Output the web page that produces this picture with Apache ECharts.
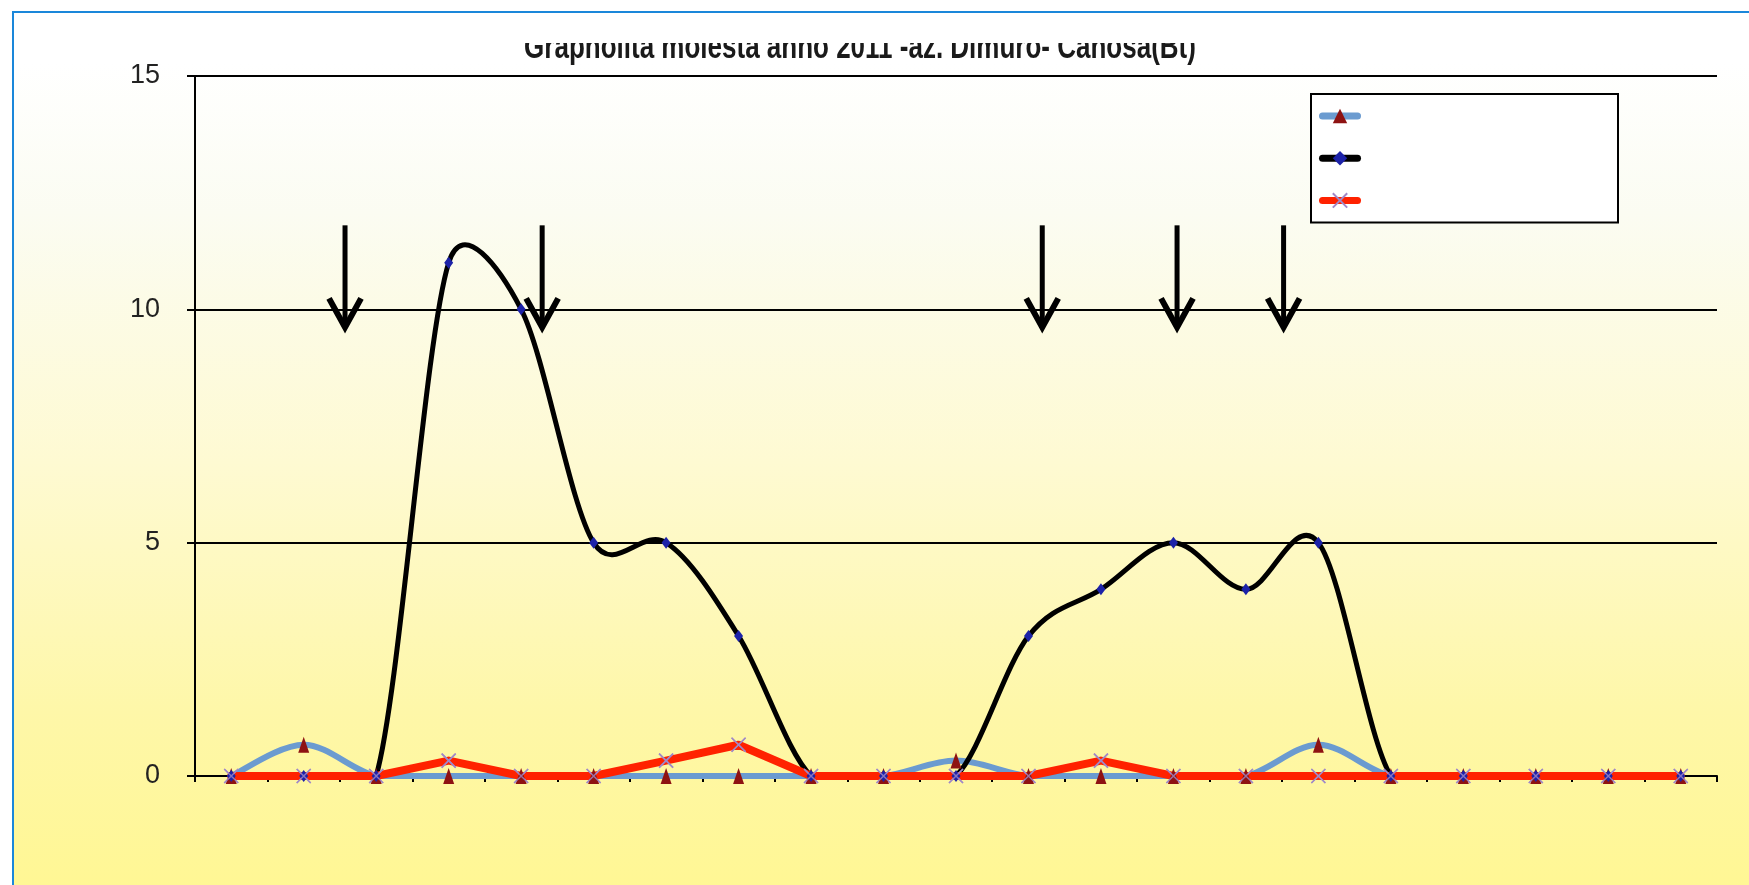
<!DOCTYPE html>
<html>
<head>
<meta charset="utf-8">
<script src="https://cdn.jsdelivr.net/npm/echarts@6/dist/echarts.min.js"></script>
<style>
  html, body { margin: 0; padding: 0; background: #ffffff; width: 1749px; height: 885px; overflow: hidden; }
  #bg {
    position: absolute; left: 12px; top: 11px; width: 1745px; height: 885px;
    border-left: 2px solid #1a87da; border-top: 2px solid #1a87da;
    background: linear-gradient(to bottom, #ffffff 0px, #ffffff 50px, #fbfcf2 200px, #fefad2 450px, #fef7a8 700px, #fff794 874px);
  }
  #chart { position: absolute; left: 0; top: 0; width: 1749px; height: 885px; }
</style>
</head>
<body>
<div id="bg"></div>
<div id="chart"></div>
<script>
const titleText = 'Grapholita molesta anno 2011 -az. Dimuro- Canosa(Bt)';
const categories = ['1','2','3','4','5','6','7','8','9','10','11','12','13','14','15','16','17','18','19','20','21'];
const seriesNames = ['Serie 1', 'Serie 2', 'Serie 3'];
const blueValues  = [0, 0.67, 0, 0, 0, 0, 0, 0, 0, 0, 0.33, 0, 0, 0, 0, 0.67, 0, 0, 0, 0, 0];
const blackValues = [0, 0, 0, 11, 10, 5, 5, 3, 0, 0, 0, 3, 4, 5, 4, 5, 0, 0, 0, 0, 0];
const redValues   = [0, 0, 0, 0.33, 0, 0, 0.33, 0.67, 0, 0, 0, 0, 0.33, 0, 0, 0, 0, 0, 0, 0, 0];
const yTicks = [0, 5, 10, 15];
// treatment arrows: position along the category axis (index), top and tip values
const arrowX = [1.57, 4.29, 11.19, 13.05, 14.52];
const arrowTop = 11.8;
const arrowTip = 9.55;

const BLUE = '#6b9bd0', BLACK = '#000000', RED = '#ff2200';
const TRI = '#8e1212', DIA = '#1c22a8', XCOL = '#a088c8';
const xMarker = 'path://M0,0 L10,10 M10,0 L0,10';
const labelFont = "'Liberation Sans', Arial, sans-serif";

const chart = echarts.init(document.getElementById('chart'), null, { renderer: 'canvas' });

// Excel-like smoothed curve: Catmull-Rom bezier segments, drawn through the axes
function splineSeries(values, color, width, z) {
  return {
    type: 'custom', xAxisIndex: 0, yAxisIndex: 0, z, silent: true, clip: false,
    data: values.map((v, i) => [i, v]),
    renderItem: (params, api) => {
      const i = params.dataIndex;
      const n = values.length;
      if (i >= n - 1) return null;
      const idx = k => Math.min(Math.max(k, 0), n - 1);
      const P = k => api.coord([idx(k), values[idx(k)]]);
      const zeroY = api.coord([0, 0])[1];
      const p0 = P(i - 1), p1 = P(i), p2 = P(i + 1), p3 = P(i + 2);
      const seg = Math.hypot(p2[0] - p1[0], p2[1] - p1[1]);
      const cap = 0.55 * seg;
      const ctrl = (a, b) => {
        let dx = (b[0] - a[0]) / 6, dy = (b[1] - a[1]) / 6;
        const len = Math.hypot(dx, dy);
        if (len > cap && len > 0) { dx *= cap / len; dy *= cap / len; }
        return [dx, dy];
      };
      const t1 = ctrl(p0, p2), t2 = ctrl(p1, p3);
      return {
        type: 'bezierCurve',
        shape: { x1: p1[0], y1: p1[1], x2: p2[0], y2: p2[1],
                 cpx1: p1[0] + t1[0], cpy1: Math.min(p1[1] + t1[1], zeroY),
                 cpx2: p2[0] - t2[0], cpy2: Math.min(p2[1] - t2[1], zeroY) },
        style: { stroke: color, lineWidth: width, fill: null, lineCap: 'round' }
      };
    }
  };
}

const markerLine = (name, data, symbol, size, symColor, z) => ({
  name, type: 'line', data, symbol, symbolSize: size, showSymbol: true, z,
  lineStyle: { opacity: 0, width: 0 },
  itemStyle: { color: symColor, borderWidth: 0 },
  animation: false, silent: true
});

chart.setOption({
  animation: false,
  backgroundColor: 'transparent',
  grid: { left: 195, right: 32, top: 76, bottom: 109 },
  legend: {
    data: [
      { name: seriesNames[0], lineStyle: { color: BLUE, width: 7, opacity: 1, cap: 'round' } },
      { name: seriesNames[1], lineStyle: { color: BLACK, width: 7, opacity: 1, cap: 'round' } },
      { name: seriesNames[2], lineStyle: { color: RED, width: 7, opacity: 1, cap: 'round' } }
    ],
    orient: 'vertical',
    left: 1311, top: 94,
    itemWidth: 35, itemHeight: 18, itemGap: 26,
    padding: [13, 257, 14, 8],
    backgroundColor: '#ffffff', borderColor: '#000000', borderWidth: 2,
    formatter: () => '',
    selectedMode: false
  },
  xAxis: [{
    type: 'category', data: categories, boundaryGap: true,
    axisLine: { lineStyle: { color: '#000', width: 2 } },
    axisTick: { show: true, length: 6, lineStyle: { color: '#000', width: 2 } },
    axisLabel: { show: false },
    splitLine: { show: false }
  }, {
    type: 'value', min: -0.5, max: 20.5, show: false
  }],
  yAxis: {
    type: 'value', min: yTicks[0], max: yTicks[yTicks.length - 1], interval: 5,
    axisLine: { show: true, onZero: false, lineStyle: { color: '#000', width: 2 } },
    axisTick: { show: true, length: 8, lineStyle: { color: '#000', width: 2 } },
    axisLabel: { margin: 35, color: '#222', fontSize: 27, fontFamily: labelFont },
    splitLine: { show: true, lineStyle: { color: '#000', width: 2 } }
  },
  graphic: [
    { type: 'text', z: 100, x: 860, y: 66, scaleY: 1.35, originX: 0, originY: 0,
      style: { text: titleText, textAlign: 'center', textVerticalAlign: 'bottom',
               font: "bold 26px 'Liberation Sans', Arial, sans-serif", fill: '#1a1a1a' } },
    { type: 'rect', z: 101, shape: { x: 480, y: 14, width: 780, height: 29 }, style: { fill: '#ffffff' } }
  ],
  series: [
    splineSeries(blueValues, BLUE, 6, 2),
    splineSeries(blackValues, BLACK, 5, 3),
    {
      name: seriesNames[2], type: 'line', data: redValues, smooth: false,
      symbol: xMarker, symbolSize: 14, showSymbol: true, z: 4,
      lineStyle: { color: RED, width: 8, cap: 'round', join: 'round' },
      itemStyle: { color: 'rgba(0,0,0,0)', borderColor: XCOL, borderWidth: 1.5 },
      animation: false, silent: true
    },
    markerLine(seriesNames[0], blueValues, 'triangle', [11, 16], TRI, 5),
    markerLine(seriesNames[1], blackValues, 'diamond', [9, 12], DIA, 5),
    {
      name: seriesNames[2], type: 'scatter', data: redValues, symbol: xMarker, symbolSize: 14, z: 6,
      itemStyle: { color: 'rgba(0,0,0,0)', borderColor: XCOL, borderWidth: 1.5 },
      animation: false, silent: true
    },
    {
      type: 'custom', xAxisIndex: 1, yAxisIndex: 0, z: 7, silent: true,
      data: arrowX.map(x => [x, arrowTop, arrowTip]),
      renderItem: (params, api) => {
        const top = api.coord([api.value(0), api.value(1)]);
        const tip = api.coord([api.value(0), api.value(2)]);
        return {
          type: 'group',
          children: [
            { type: 'line', shape: { x1: top[0], y1: top[1], x2: tip[0], y2: tip[1] - 4 },
              style: { stroke: '#000', lineWidth: 5 } },
            { type: 'polyline', shape: { points: [[tip[0] - 16, tip[1] - 32], [tip[0], tip[1] - 3], [tip[0] + 16, tip[1] - 32]] },
              style: { stroke: '#000', lineWidth: 6, fill: null, lineJoin: 'miter' } }
          ]
        };
      }
    }
  ]
});
</script>
</body>
</html>
